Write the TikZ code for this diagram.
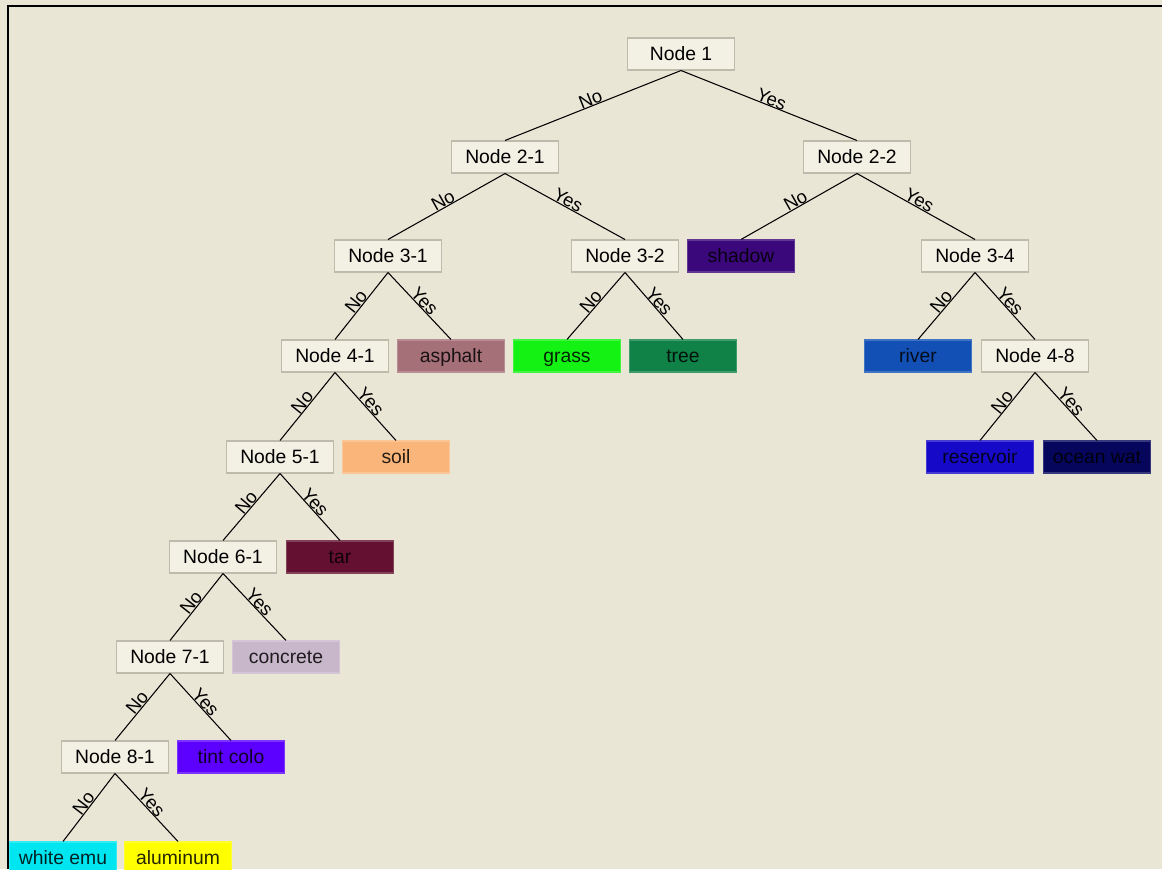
\documentclass[tikz,border=0pt]{standalone}
\usepackage{fontspec}
\setmainfont{Liberation Sans}

\definecolor{paper}{RGB}{234,230,214}
\definecolor{boxfill}{RGB}{243,240,228}
\definecolor{boxline}{RGB}{190,186,172}
\definecolor{cshadow}{RGB}{58,8,122}
\definecolor{casphalt}{RGB}{166,112,120}
\definecolor{cgrass}{RGB}{20,242,20}
\definecolor{ctree}{RGB}{16,130,72}
\definecolor{criver}{RGB}{18,80,182}
\definecolor{csoil}{RGB}{250,182,122}
\definecolor{creservoir}{RGB}{22,10,200}
\definecolor{cocean}{RGB}{6,6,92}
\definecolor{ctar}{RGB}{100,16,48}
\definecolor{cconcrete}{RGB}{200,182,202}
\definecolor{ctint}{RGB}{92,0,255}
\definecolor{cwhiteemu}{RGB}{0,230,240}
\definecolor{calu}{RGB}{255,255,0}

\tikzset{
  split/.style={draw=boxline, fill=boxfill, line width=0.6pt, minimum width=2.14cm,
    minimum height=0.64cm, inner sep=0pt, font=\fontsize{11}{13}\selectfont,
    text height=1.6ex, text depth=0.25ex},
  leaf/.style={split, fill=#1, draw=#1!80!white, text=black!85!#1},
  branch/.style={line width=0.6pt},
  ans/.style={sloped, above, midway, inner sep=0pt, font=\fontsize{10.5}{11}\selectfont}
}

\begin{document}
\begin{tikzpicture}[x=0.02cm, y=-0.02cm]
    \useasboundingbox (0, 0) rectangle (1162, 869);
    \clip (0, 0) rectangle (1162, 869);
    \fill [paper] (0, 0) rectangle (1162, 869);
    \draw [line width=1.7pt] (8, 869) -- (8, 6) -- (1162, 6);
    % level 1 and 2
    \node [split] (n1)  at (681, 54)  {Node 1};
    \node [split] (n21) at (505, 157) {Node 2-1};
    \node [split] (n22) at (857, 157) {Node 2-2};
    % level 3
    \node [split] (n31) at (388, 256) {Node 3-1};
    \node [split] (n32) at (625, 256) {Node 3-2};
    \node [leaf=cshadow] (shadow) at (741, 256) {shadow};
    \node [split] (n34) at (975, 256) {Node 3-4};
    % level 4
    \node [split] (n41) at (335, 356) {Node 4-1};
    \node [leaf=casphalt] (asphalt) at (451, 356) {asphalt};
    \node [leaf=cgrass] (grass) at (567, 356) {grass};
    \node [leaf=ctree] (tree) at (683, 356) {tree};
    \node [leaf=criver] (river) at (918, 356) {river};
    \node [split] (n48) at (1035, 356) {Node 4-8};
    % level 5
    \node [split] (n51) at (280, 457) {Node 5-1};
    \node [leaf=csoil] (soil) at (396, 457) {soil};
    \node [leaf=creservoir] (reservoir) at (980, 457) {reservoir};
    \node [leaf=cocean] (ocean) at (1097, 457) {ocean wat};
    % level 6 to 9
    \node [split] (n61) at (223, 557) {Node 6-1};
    \node [leaf=ctar] (tar) at (340, 557) {tar};
    \node [split] (n71) at (170, 657) {Node 7-1};
    \node [leaf=cconcrete] (concrete) at (286, 657) {concrete};
    \node [split] (n81) at (115, 757) {Node 8-1};
    \node [leaf=ctint] (tint) at (231, 757) {tint colo};
    \node [leaf=cwhiteemu] (whiteemu) at (63, 858) {white emu};
    \node [leaf=calu] (alu) at (178, 858) {aluminum};
    % branches
    \draw [branch] (n1.south)  -- node [ans] {No}  (n21.north);
    \draw [branch] (n1.south)  -- node [ans] {Yes} (n22.north);
    \draw [branch] (n21.south) -- node [ans] {No}  (n31.north);
    \draw [branch] (n21.south) -- node [ans] {Yes} (n32.north);
    \draw [branch] (n22.south) -- node [ans] {No}  (shadow.north);
    \draw [branch] (n22.south) -- node [ans] {Yes} (n34.north);
    \draw [branch] (n31.south) -- node [ans] {No}  (n41.north);
    \draw [branch] (n31.south) -- node [ans] {Yes} (asphalt.north);
    \draw [branch] (n32.south) -- node [ans] {No}  (grass.north);
    \draw [branch] (n32.south) -- node [ans] {Yes} (tree.north);
    \draw [branch] (n34.south) -- node [ans] {No}  (river.north);
    \draw [branch] (n34.south) -- node [ans] {Yes} (n48.north);
    \draw [branch] (n41.south) -- node [ans] {No}  (n51.north);
    \draw [branch] (n41.south) -- node [ans] {Yes} (soil.north);
    \draw [branch] (n48.south) -- node [ans] {No}  (reservoir.north);
    \draw [branch] (n48.south) -- node [ans] {Yes} (ocean.north);
    \draw [branch] (n51.south) -- node [ans] {No}  (n61.north);
    \draw [branch] (n51.south) -- node [ans] {Yes} (tar.north);
    \draw [branch] (n61.south) -- node [ans] {No}  (n71.north);
    \draw [branch] (n61.south) -- node [ans] {Yes} (concrete.north);
    \draw [branch] (n71.south) -- node [ans] {No}  (n81.north);
    \draw [branch] (n71.south) -- node [ans] {Yes} (tint.north);
    \draw [branch] (n81.south) -- node [ans] {No}  (whiteemu.north);
    \draw [branch] (n81.south) -- node [ans] {Yes} (alu.north);
\end{tikzpicture}
\end{document}
